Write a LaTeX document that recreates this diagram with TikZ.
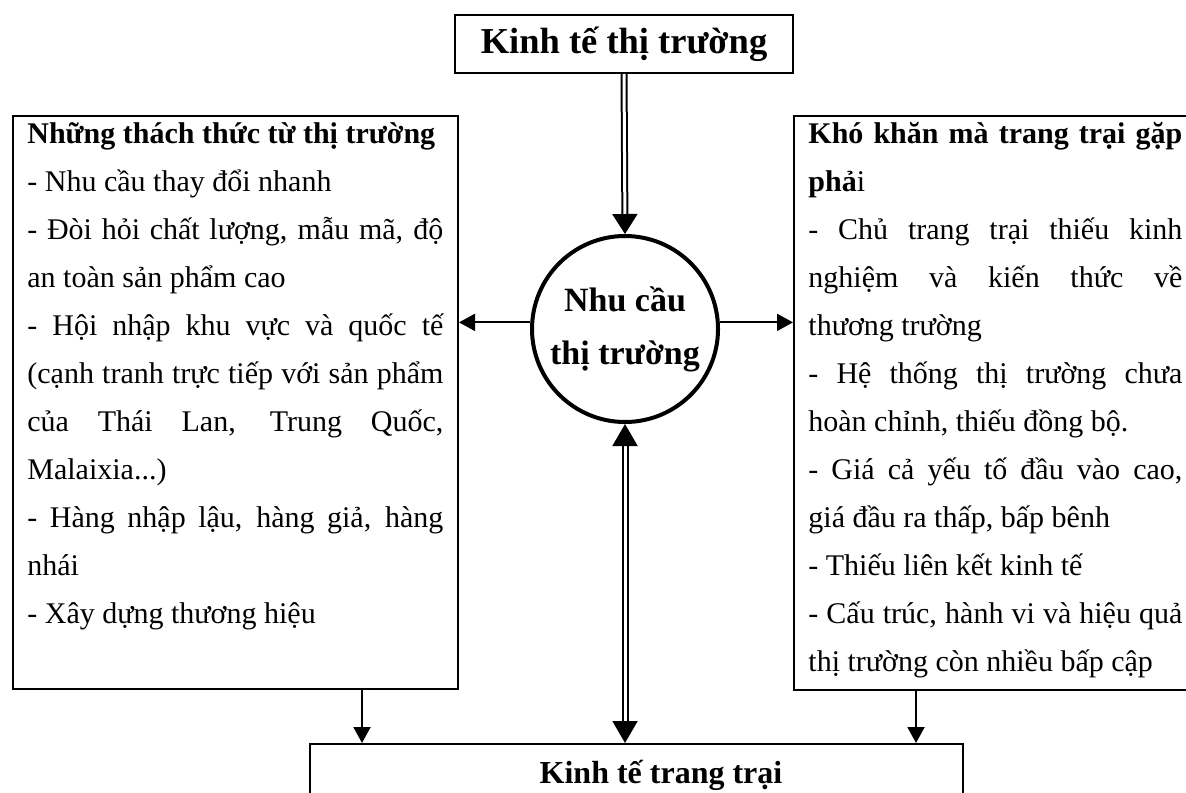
\documentclass[tikz,border=0pt]{standalone}
\usepackage{fontspec}
\setmainfont{Liberation Serif}
\usetikzlibrary{arrows.meta}
\hyphenpenalty=10000
\exhyphenpenalty=10000

\begin{document}
\begin{tikzpicture}[x=0.5pt,y=-0.5pt,
    frame/.style={draw,line width=1pt,inner sep=0pt},
    bodytext/.style={inner sep=0pt,anchor=base west,align=justify,font=\fontsize{15pt}{24pt}\selectfont},
    arrowline/.style={line width=1pt,-{Triangle[length=8pt,width=8.5pt]}},
    doublearrow/.style={double,line width=1pt,double distance=1.5pt}]
    \useasboundingbox (0,0) rectangle (1186,792);

    % Boxes %
    \node[frame,minimum width=169pt,minimum height=29pt,font=\bfseries\fontsize{18.25pt}{22pt}\selectfont] (market) at (624,44) {Kinh tế thị trường};
    \node[circle,draw,line width=2pt,inner sep=0pt,minimum size=93pt,align=center,font=\bfseries\fontsize{17pt}{26.5pt}\selectfont] (demand) at (625,329) {Nhu cầu\\thị trường};
    \node[frame,anchor=north west,minimum width=222.5pt,minimum height=286.5pt] (challenges) at (12,115) {};
    \node[frame,anchor=north west,minimum width=202pt,minimum height=287pt] (difficulties) at (793,115) {};
    \node[frame,anchor=north,minimum width=326.5pt,text height=19.5pt,text depth=30pt,font=\bfseries\fontsize{16pt}{19pt}\selectfont] (farm) at (636.5,743) {\hspace*{24.5pt}Kinh tế trang trại};

    % Texts %
    \node[bodytext,text width=208pt] (challengestext) at (27,143) {\textbf{Những thách thức từ thị trường}\par
        - Nhu cầu thay đổi nhanh\par
        - Đòi hỏi chất lượng, mẫu mã, độ\linebreak an toàn sản phẩm cao\par
        - Hội nhập khu vực và quốc tế\linebreak (cạnh tranh trực tiếp với sản phẩm\linebreak của Thái Lan, Trung Quốc,\linebreak Malaixia...)\par
        - Hàng nhập lậu, hàng giả, hàng\linebreak nhái\par
        - Xây dựng thương hiệu};
    \node[bodytext,text width=187pt] (difficultiestext) at (808,143) {\textbf{Khó khăn mà trang trại gặp\linebreak phả}i\par
        - Chủ trang trại thiếu kinh\linebreak nghiệm và kiến thức về\linebreak thương trường\par
        - Hệ thống thị trường chưa\linebreak hoàn chỉnh, thiếu đồng bộ.\par
        - Giá cả yếu tố đầu vào cao,\linebreak giá đầu ra thấp, bấp bênh\par
        - Thiếu liên kết kinh tế\par
        - Cấu trúc, hành vi và hiệu quả\linebreak thị trường còn nhiều bấp cập};

    % Arrows %
    \draw[doublearrow,-{Triangle[length=10pt,width=12.5pt]}] (market.south) -- (demand.north);
    \draw[arrowline] (demand.176) -- (demand.176 -| challenges.east);
    \draw[arrowline] (demand.4) -- (demand.4 -| difficulties.west);
    \draw[doublearrow,{Triangle[length=11pt,width=12.5pt]}-{Triangle[length=11pt,width=12.5pt]}] (demand.south) -- (demand.south |- farm.north);
    \draw[arrowline] ([xshift=63.25pt]challenges.south) -- ([xshift=63.25pt]challenges.south |- farm.north);
    \draw[arrowline] ([xshift=-40pt]difficulties.south) -- ([xshift=-40pt]difficulties.south |- farm.north);
\end{tikzpicture}
\end{document}
